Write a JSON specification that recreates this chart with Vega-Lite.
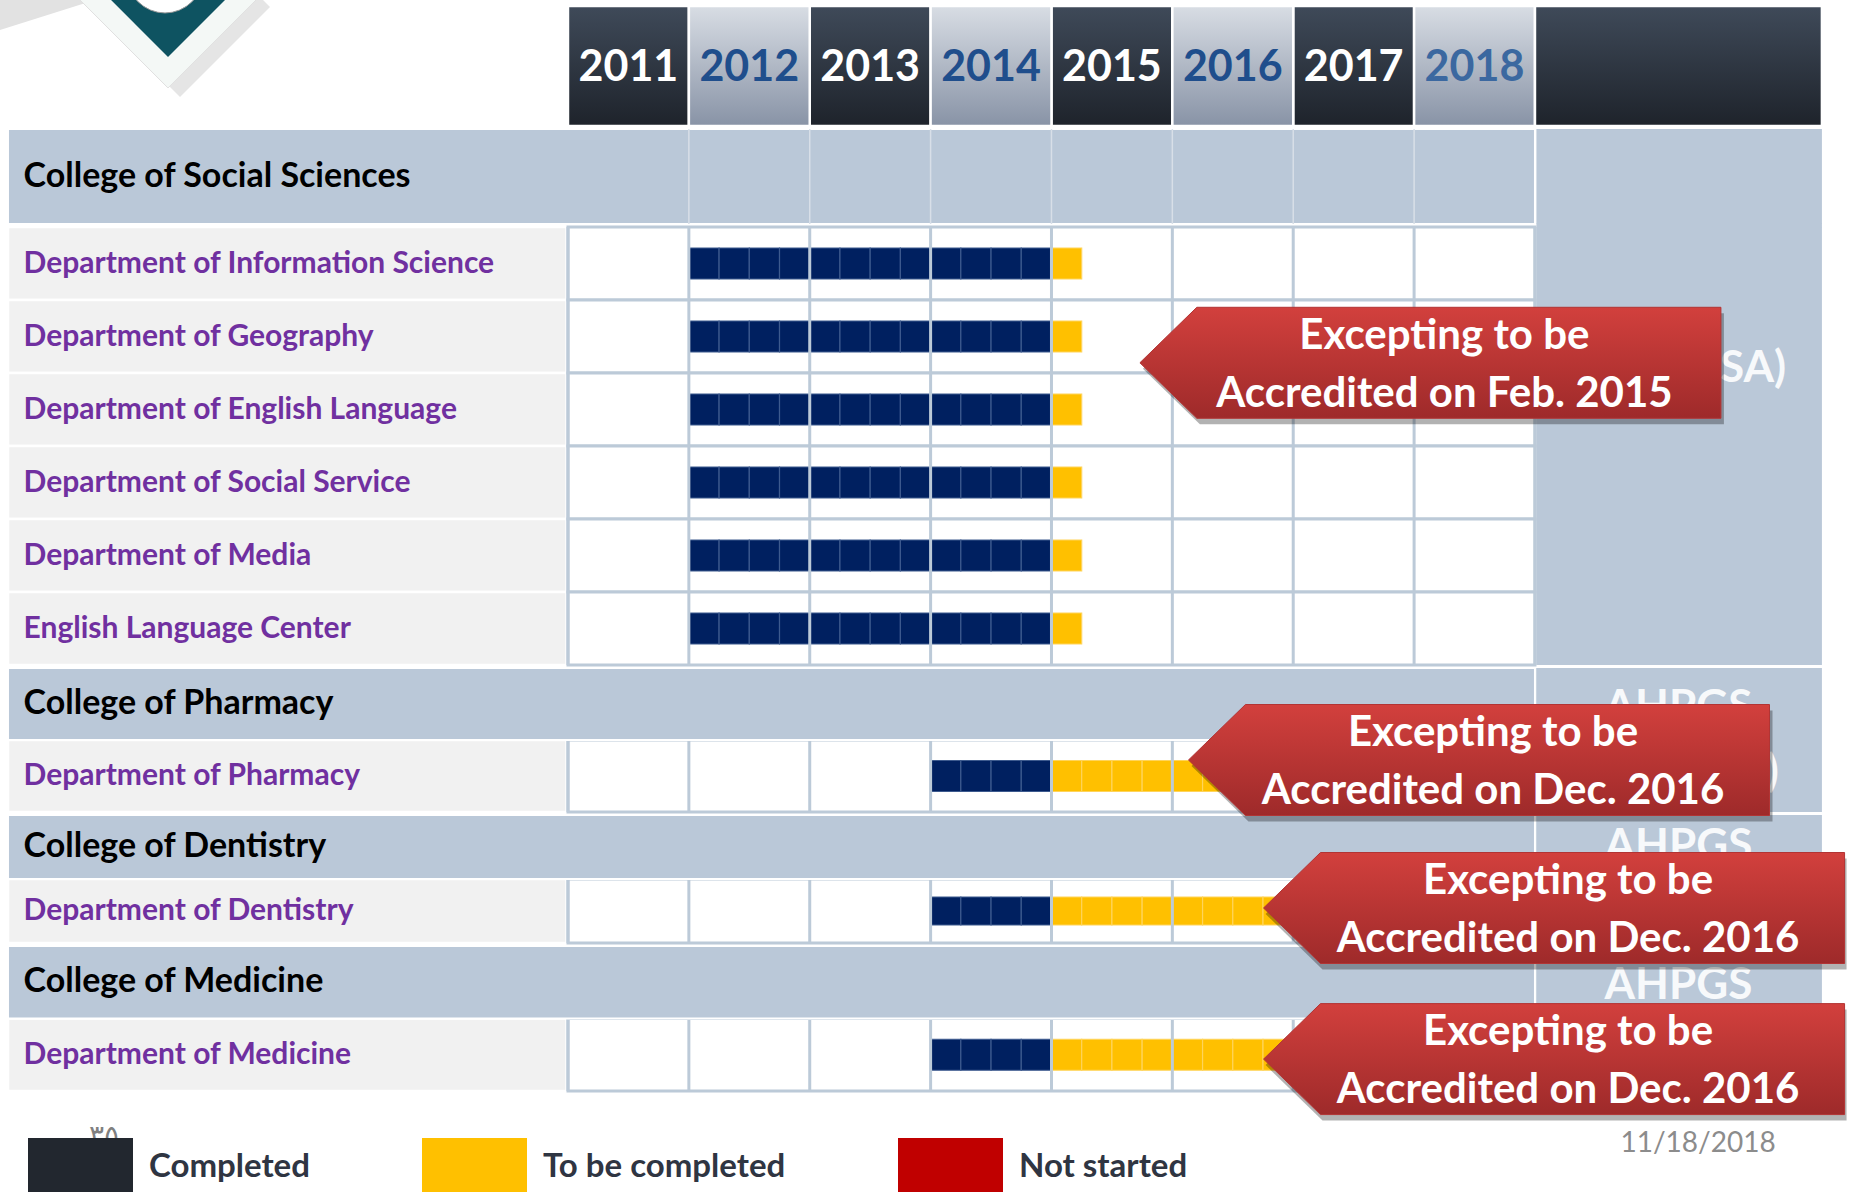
{
  "$schema": "https://vega.github.io/schema/vega-lite/v6.json",
  "autosize": {"type": "pad"},
  "padding": 0,
  "background": "#ffffff",
  "bounds": "flush",
  "spacing": 3,
  "config": {"view": {"stroke": null}, "axis": {"disable": true}, "scale": {"continuousPadding": 0}},
  "resolve": {"scale": {"x": "shared", "y": "independent", "color": "independent"}, "legend": {"color": "independent"}},
  "datasets": {
    "rows": [
      {"label": "College of Social Sciences", "kind": "college", "grp": "A0"},
      {"label": "Department of Information Science", "kind": "dept", "grp": "A1"},
      {"label": "Department of Geography", "kind": "dept", "grp": "A1"},
      {"label": "Department of English Language", "kind": "dept", "grp": "A1"},
      {"label": "Department of Social Service", "kind": "dept", "grp": "A1"},
      {"label": "Department of Media", "kind": "dept", "grp": "A1"},
      {"label": "English Language Center", "kind": "dept", "grp": "A1"},
      {"label": "College of Pharmacy", "kind": "college", "grp": "B"},
      {"label": "Department of Pharmacy", "kind": "dept", "grp": "B"},
      {"label": "College of Dentistry", "kind": "college", "grp": "C"},
      {"label": "Department of Dentistry", "kind": "dept", "grp": "C"},
      {"label": "College of Medicine", "kind": "college", "grp": "D"},
      {"label": "Department of Medicine", "kind": "dept", "grp": "D"}
    ],
    "bars": [
      {"grp": "A1", "label": "Department of Information Science", "k": "Completed", "s": [2012,2012.25,2012.5,2012.75,2013,2013.25,2013.5,2013.75,2014,2014.25,2014.5,2014.75], "e": [2012.25,2012.5,2012.75,2013,2013.25,2013.5,2013.75,2014,2014.25,2014.5,2014.75,2015]},
      {"grp": "A1", "label": "Department of Information Science", "k": "To be completed", "s": [2015], "e": [2015.25]},
      {"grp": "A1", "label": "Department of Geography", "k": "Completed", "s": [2012,2012.25,2012.5,2012.75,2013,2013.25,2013.5,2013.75,2014,2014.25,2014.5,2014.75], "e": [2012.25,2012.5,2012.75,2013,2013.25,2013.5,2013.75,2014,2014.25,2014.5,2014.75,2015]},
      {"grp": "A1", "label": "Department of Geography", "k": "To be completed", "s": [2015], "e": [2015.25]},
      {"grp": "A1", "label": "Department of English Language", "k": "Completed", "s": [2012,2012.25,2012.5,2012.75,2013,2013.25,2013.5,2013.75,2014,2014.25,2014.5,2014.75], "e": [2012.25,2012.5,2012.75,2013,2013.25,2013.5,2013.75,2014,2014.25,2014.5,2014.75,2015]},
      {"grp": "A1", "label": "Department of English Language", "k": "To be completed", "s": [2015], "e": [2015.25]},
      {"grp": "A1", "label": "Department of Social Service", "k": "Completed", "s": [2012,2012.25,2012.5,2012.75,2013,2013.25,2013.5,2013.75,2014,2014.25,2014.5,2014.75], "e": [2012.25,2012.5,2012.75,2013,2013.25,2013.5,2013.75,2014,2014.25,2014.5,2014.75,2015]},
      {"grp": "A1", "label": "Department of Social Service", "k": "To be completed", "s": [2015], "e": [2015.25]},
      {"grp": "A1", "label": "Department of Media", "k": "Completed", "s": [2012,2012.25,2012.5,2012.75,2013,2013.25,2013.5,2013.75,2014,2014.25,2014.5,2014.75], "e": [2012.25,2012.5,2012.75,2013,2013.25,2013.5,2013.75,2014,2014.25,2014.5,2014.75,2015]},
      {"grp": "A1", "label": "Department of Media", "k": "To be completed", "s": [2015], "e": [2015.25]},
      {"grp": "A1", "label": "English Language Center", "k": "Completed", "s": [2012,2012.25,2012.5,2012.75,2013,2013.25,2013.5,2013.75,2014,2014.25,2014.5,2014.75], "e": [2012.25,2012.5,2012.75,2013,2013.25,2013.5,2013.75,2014,2014.25,2014.5,2014.75,2015]},
      {"grp": "A1", "label": "English Language Center", "k": "To be completed", "s": [2015], "e": [2015.25]},
      {"grp": "B", "label": "Department of Pharmacy", "k": "Completed", "s": [2014,2014.25,2014.5,2014.75], "e": [2014.25,2014.5,2014.75,2015]},
      {"grp": "B", "label": "Department of Pharmacy", "k": "To be completed", "s": [2015,2015.25,2015.5,2015.75,2016,2016.25,2016.5,2016.75], "e": [2015.25,2015.5,2015.75,2016,2016.25,2016.5,2016.75,2017]},
      {"grp": "C", "label": "Department of Dentistry", "k": "Completed", "s": [2014,2014.25,2014.5,2014.75], "e": [2014.25,2014.5,2014.75,2015]},
      {"grp": "C", "label": "Department of Dentistry", "k": "To be completed", "s": [2015,2015.25,2015.5,2015.75,2016,2016.25,2016.5,2016.75], "e": [2015.25,2015.5,2015.75,2016,2016.25,2016.5,2016.75,2017]},
      {"grp": "D", "label": "Department of Medicine", "k": "Completed", "s": [2014,2014.25,2014.5,2014.75], "e": [2014.25,2014.5,2014.75,2015]},
      {"grp": "D", "label": "Department of Medicine", "k": "To be completed", "s": [2015,2015.25,2015.5,2015.75,2016,2016.25,2016.5,2016.75], "e": [2015.25,2015.5,2015.75,2016,2016.25,2016.5,2016.75,2017]}
    ],
    "header": [
      {"label": "2011", "s": 2011, "e": 2012, "tone": "dark"},
      {"label": "2012", "s": 2012, "e": 2013, "tone": "light"},
      {"label": "2013", "s": 2013, "e": 2014, "tone": "dark"},
      {"label": "2014", "s": 2014, "e": 2015, "tone": "light"},
      {"label": "2015", "s": 2015, "e": 2016, "tone": "dark"},
      {"label": "2016", "s": 2016, "e": 2017, "tone": "light"},
      {"label": "2017", "s": 2017, "e": 2018, "tone": "dark"},
      {"label": "2018", "s": 2018, "e": 2019, "tone": "light"}
    ],
    "grid": [{"yr": 2011}, {"yr": 2012}, {"yr": 2013}, {"yr": 2014}, {"yr": 2015}, {"yr": 2016}, {"yr": 2017}, {"yr": 2018}, {"yr": 2019}],
    "status": [{"status": "Completed"}, {"status": "To be completed"}, {"status": "Not started"}]
  },
  "vconcat": [
    {
      "width": 1849,
      "height": 126,
      "layer": [
        {
          "data": {"values": [{"part": "swoosh"}]},
          "mark": {"type": "point", "shape": "M-0.94,-0.3L0.96,-0.3L-0.94,0.3Z", "size": 10000, "filled": true, "fill": "#e2e2e2", "opacity": 1, "strokeWidth": 0, "clip": true},
          "encoding": {
            "x": {"datum": 2006.69, "type": "quantitative", "scale": {"domain": [2006.301, 2021.598], "padding": 0, "nice": false, "zero": false}},
            "y": {"datum": 0.075, "type": "quantitative", "scale": {"domain": [-0.05, 1], "reverse": true, "padding": 0, "nice": false, "zero": false}}
          }
        },
        {
          "data": {"values": [{"part": "logo"}]},
          "encoding": {
            "x": {"datum": 2007.691, "type": "quantitative"},
            "y": {"datum": -0.067, "type": "quantitative"}
          },
          "layer": [
            {"mark": {"type": "point", "shape": "M0,-1L1,0L0,1L-1,0Z", "size": 32400, "filled": true, "fill": "#000000", "opacity": 0.1, "strokeWidth": 0, "xOffset": 12, "yOffset": 9, "clip": true}},
            {"mark": {"type": "point", "shape": "M0,-1L1,0L0,1L-1,0Z", "size": 32400, "filled": true, "fill": "#f4f8f6", "opacity": 1, "stroke": "#e0e0e0", "strokeWidth": 1, "clip": true}},
            {"mark": {"type": "point", "shape": "M0,-1L1,0L0,1L-1,0Z", "size": 14400, "filled": true, "fill": "#0e5361", "opacity": 1, "strokeWidth": 0, "yOffset": -1, "clip": true}},
            {"mark": {"type": "point", "shape": "circle", "size": 5776, "filled": true, "fill": "#ffffff", "opacity": 1, "stroke": "#9a9a9a", "strokeWidth": 1, "xOffset": -3, "yOffset": -23, "clip": true}}
          ]
        },
        {
          "data": {"name": "header"},
          "transform": [{"filter": "datum.tone === 'dark'"}],
          "mark": {"type": "rect", "stroke": "#ffffff", "strokeWidth": 2.5, "fill": {"gradient": "linear", "x1": 0, "y1": 0, "x2": 0, "y2": 1, "stops": [{"offset": 0, "color": "#3f4a59"}, {"offset": 1, "color": "#1e232b"}]}},
          "encoding": {"x": {"field": "s", "type": "quantitative"}, "x2": {"field": "e"}, "y": {"datum": 0, "type": "quantitative"}, "y2": {"datum": 1}}
        },
        {
          "data": {"name": "header"},
          "transform": [{"filter": "datum.tone === 'light'"}],
          "mark": {"type": "rect", "stroke": "#ffffff", "strokeWidth": 2.5, "fill": {"gradient": "linear", "x1": 0, "y1": 0, "x2": 0, "y2": 1, "stops": [{"offset": 0, "color": "#d8dde4"}, {"offset": 1, "color": "#8893a6"}]}},
          "encoding": {"x": {"field": "s", "type": "quantitative"}, "x2": {"field": "e"}, "y": {"datum": 0, "type": "quantitative"}, "y2": {"datum": 1}}
        },
        {
          "data": {"values": [{"part": "accreditation column"}]},
          "mark": {"type": "rect", "stroke": "#ffffff", "strokeWidth": 2.5, "fill": {"gradient": "linear", "x1": 0, "y1": 0, "x2": 0, "y2": 1, "stops": [{"offset": 0, "color": "#3f4a59"}, {"offset": 1, "color": "#1e232b"}]}},
          "encoding": {"x": {"datum": 2019, "type": "quantitative"}, "x2": {"datum": 2021.374}, "y": {"datum": 0, "type": "quantitative"}, "y2": {"datum": 1}}
        },
        {
          "data": {"name": "header"},
          "mark": {"type": "text", "font": "Lato", "fontSize": 43, "fontWeight": "bold", "align": "center", "baseline": "middle", "dx": 60.4, "dy": 2},
          "encoding": {
            "x": {"field": "s", "type": "quantitative"},
            "y": {"datum": 0.5, "type": "quantitative"},
            "text": {"field": "label", "type": "nominal"},
            "fill": {"condition": [{"test": "datum.tone === 'dark'", "value": "#ffffff"}, {"test": "datum.label === '2018'", "value": "#3b68a0"}], "value": "#1f4e8c"}
          }
        }
      ]
    },
    {
      "width": 1849,
      "height": 95,
      "layer": [
        {
          "data": {"name": "rows"},
          "transform": [{"filter": "datum.grp === 'A0'"}],
          "mark": {"type": "rect", "fill": "#bac8d8", "stroke": "#ffffff", "strokeWidth": 2},
          "encoding": {
            "x": {"datum": 2006.367, "type": "quantitative", "scale": {"domain": [2006.301, 2021.598], "padding": 0, "nice": false, "zero": false}},
            "x2": {"datum": 2019},
            "y": {"field": "label", "type": "nominal", "scale": {"domain": ["College of Social Sciences"], "paddingInner": 0, "paddingOuter": 0}}
          }
        },
        {
          "data": {"name": "grid"},
          "transform": [{"filter": "datum.yr > 2011 && datum.yr < 2019"}],
          "mark": {"type": "rule", "color": "#d8dfe8", "strokeWidth": 1.5},
          "encoding": {"x": {"field": "yr", "type": "quantitative"}}
        },
        {
          "data": {"name": "rows"},
          "transform": [{"filter": "datum.grp === 'A0'"}],
          "mark": {"type": "rect", "fill": "#bac8d8"},
          "encoding": {"x": {"datum": 2019.012, "type": "quantitative"}, "x2": {"datum": 2021.374}, "y": {"field": "label", "type": "nominal"}}
        },
        {
          "data": {"name": "rows"},
          "transform": [{"filter": "datum.grp === 'A0'"}],
          "mark": {"type": "rule", "color": "#bac8d8", "strokeWidth": 4, "yOffset": 1.5},
          "encoding": {"x": {"datum": 2019.012, "type": "quantitative"}, "x2": {"datum": 2021.374}, "y": {"field": "label", "type": "nominal", "bandPosition": 1}}
        },
        {
          "data": {"name": "rows"},
          "transform": [{"filter": "datum.grp === 'A0'"}],
          "mark": {"type": "text", "font": "Lato", "fontWeight": "bold", "fontSize": 34, "fill": "#000000", "align": "left", "baseline": "middle"},
          "encoding": {"x": {"datum": 2006.496, "type": "quantitative"}, "y": {"field": "label", "type": "nominal"}, "text": {"field": "label", "type": "nominal"}}
        }
      ]
    },
    {
      "width": 1849,
      "height": 438,
      "layer": [
        {
          "data": {"name": "rows"},
          "transform": [{"filter": "datum.grp === 'A1'"}],
          "mark": {"type": "rect", "fill": "#f1f1f1", "stroke": "#ffffff", "strokeWidth": 2.5},
          "encoding": {
            "x": {"datum": 2006.367, "type": "quantitative", "scale": {"domain": [2006.301, 2021.598], "padding": 0, "nice": false, "zero": false}},
            "x2": {"datum": 2010.988},
            "y": {"field": "label", "type": "nominal", "scale": {"domain": ["Department of Information Science", "Department of Geography", "Department of English Language", "Department of Social Service", "Department of Media", "English Language Center"], "paddingInner": 0, "paddingOuter": 0}}
          }
        },
        {
          "data": {"name": "rows"},
          "transform": [{"filter": "datum.grp === 'A1'"}],
          "mark": {"type": "rect", "fill": "#ffffff", "stroke": "#bccad8", "strokeWidth": 3},
          "encoding": {"x": {"datum": 2011, "type": "quantitative"}, "x2": {"datum": 2019}, "y": {"field": "label", "type": "nominal"}}
        },
        {
          "data": {"name": "bars"},
          "transform": [{"filter": "datum.grp === 'A1'"}, {"flatten": ["s", "e"]}],
          "mark": {"type": "bar", "size": 31, "strokeWidth": 1.2},
          "encoding": {
            "x": {"field": "s", "type": "quantitative"}, "x2": {"field": "e"},
            "y": {"field": "label", "type": "nominal"},
            "fill": {"condition": {"test": "datum.k === 'Completed'", "value": "#002060"}, "value": "#ffc000"},
            "stroke": {"condition": {"test": "datum.k === 'Completed'", "value": "#3d5a8e"}, "value": "#ffd45a"}
          }
        },
        {
          "data": {"name": "grid"},
          "mark": {"type": "rule", "color": "#bccad8", "strokeWidth": 3},
          "encoding": {"x": {"field": "yr", "type": "quantitative"}}
        },
        {
          "data": {"name": "rows"},
          "transform": [{"filter": "datum.grp === 'A1'"}],
          "mark": {"type": "rect", "fill": "#bac8d8"},
          "encoding": {"x": {"datum": 2019.012, "type": "quantitative"}, "x2": {"datum": 2021.374}, "y": {"field": "label", "type": "nominal"}}
        },
        {
          "data": {"name": "rows"},
          "transform": [{"filter": "datum.grp === 'A1'"}],
          "mark": {"type": "text", "font": "Lato", "fontWeight": "bold", "fontSize": 30, "fill": "#7030a0", "align": "left", "baseline": "middle"},
          "encoding": {"x": {"datum": 2006.496, "type": "quantitative"}, "y": {"field": "label", "type": "nominal"}, "text": {"field": "label", "type": "nominal"}}
        },
        {
          "data": {"values": [{"label": "Department of Geography", "text": "NCAAA (KSA)"}]},
          "mark": {"type": "text", "font": "Lato", "fontWeight": "bold", "fontSize": 44, "fill": "#f7f9fb", "align": "right", "baseline": "middle"},
          "encoding": {"x": {"datum": 2021.077, "type": "quantitative"}, "y": {"field": "label", "type": "nominal", "bandPosition": 0.95}, "text": {"field": "text", "type": "nominal"}}
        },
        {
          "data": {"values": [{"label": "Department of Geography", "lines": ["Excepting to be", "Accredited on Feb. 2015"]}]},
          "encoding": {"x": {"datum": 2018.135, "type": "quantitative"}, "y": {"field": "label", "type": "nominal", "bandPosition": 0.86}},
          "layer": [
            {"mark": {"type": "point", "shape": "M-1,0L-0.804,-0.191L1,-0.191L1,0.191L-0.804,0.191Z", "size": 337561, "filled": true, "fill": "#000000", "opacity": 0.3, "strokeWidth": 0, "xOffset": 3, "yOffset": 6}},
            {"mark": {"type": "point", "shape": "M-1,0L-0.804,-0.191L1,-0.191L1,0.191L-0.804,0.191Z", "size": 337561, "filled": true, "opacity": 1, "stroke": "#b23434", "strokeWidth": 1, "fill": {"gradient": "linear", "x1": 0, "y1": 0, "x2": 0, "y2": 1, "stops": [{"offset": 0, "color": "#d2403d"}, {"offset": 1, "color": "#9e2a2a"}]}}},
            {"mark": {"type": "text", "font": "Lato", "fontSize": 42, "fontWeight": "bold", "fill": "#ffffff", "align": "center", "baseline": "middle", "lineHeight": 58, "dx": 14, "dy": -27}, "encoding": {"text": {"field": "lines", "type": "nominal"}}}
          ]
        }
      ]
    },
    {
      "width": 1849,
      "height": 144,
      "layer": [
        {
          "data": {"name": "rows"},
          "transform": [{"filter": "datum.grp === 'B' && datum.kind === 'dept'"}],
          "mark": {"type": "rect", "fill": "#f1f1f1", "stroke": "#ffffff", "strokeWidth": 2.5},
          "encoding": {
            "x": {"datum": 2006.367, "type": "quantitative", "scale": {"domain": [2006.301, 2021.598], "padding": 0, "nice": false, "zero": false}},
            "x2": {"datum": 2010.988},
            "y": {"field": "label", "type": "nominal", "scale": {"domain": ["College of Pharmacy", "Department of Pharmacy"], "paddingInner": 0, "paddingOuter": 0}}
          }
        },
        {
          "data": {"name": "rows"},
          "transform": [{"filter": "datum.grp === 'B' && datum.kind === 'dept'"}],
          "mark": {"type": "rect", "fill": "#ffffff", "stroke": "#bccad8", "strokeWidth": 3},
          "encoding": {"x": {"datum": 2011, "type": "quantitative"}, "x2": {"datum": 2019}, "y": {"field": "label", "type": "nominal"}}
        },
        {
          "data": {"name": "bars"},
          "transform": [{"filter": "datum.grp === 'B'"}, {"flatten": ["s", "e"]}],
          "mark": {"type": "bar", "size": 31, "strokeWidth": 1.2},
          "encoding": {
            "x": {"field": "s", "type": "quantitative"}, "x2": {"field": "e"},
            "y": {"field": "label", "type": "nominal"},
            "fill": {"condition": {"test": "datum.k === 'Completed'", "value": "#002060"}, "value": "#ffc000"},
            "stroke": {"condition": {"test": "datum.k === 'Completed'", "value": "#3d5a8e"}, "value": "#ffd45a"}
          }
        },
        {
          "data": {"name": "grid"},
          "mark": {"type": "rule", "color": "#bccad8", "strokeWidth": 3},
          "encoding": {"x": {"field": "yr", "type": "quantitative"}}
        },
        {
          "data": {"name": "rows"},
          "transform": [{"filter": "datum.grp === 'B' && datum.kind === 'college'"}],
          "mark": {"type": "rect", "fill": "#bac8d8", "stroke": "#ffffff", "strokeWidth": 2},
          "encoding": {"x": {"datum": 2006.367, "type": "quantitative"}, "x2": {"datum": 2019}, "y": {"field": "label", "type": "nominal"}}
        },
        {
          "data": {"name": "rows"},
          "transform": [{"filter": "datum.grp === 'B'"}],
          "mark": {"type": "rect", "fill": "#bac8d8"},
          "encoding": {"x": {"datum": 2019.012, "type": "quantitative"}, "x2": {"datum": 2021.374}, "y": {"field": "label", "type": "nominal"}}
        },
        {
          "data": {"name": "rows"},
          "transform": [{"filter": "datum.grp === 'B'"}],
          "mark": {"type": "text", "font": "Lato", "fontWeight": "bold", "align": "left", "baseline": "middle"},
          "encoding": {
            "x": {"datum": 2006.496, "type": "quantitative"}, "y": {"field": "label", "type": "nominal"}, "text": {"field": "label", "type": "nominal"},
            "size": {"condition": {"test": "datum.kind === 'college'", "value": 34}, "value": 30},
            "fill": {"condition": {"test": "datum.kind === 'college'", "value": "#000000"}, "value": "#7030a0"}
          }
        },
        {
          "data": {"values": [{"label": "Department of Pharmacy", "lines": ["AHPGS", "(Germany)"]}]},
          "mark": {"type": "text", "font": "Lato", "fontWeight": "bold", "fontSize": 44, "fill": "#f7f9fb", "align": "center", "baseline": "middle", "lineHeight": 65, "dy": -32.5},
          "encoding": {"x": {"datum": 2020.187, "type": "quantitative"}, "y": {"field": "label", "type": "nominal", "bandPosition": 0}, "text": {"field": "lines", "type": "nominal"}}
        }
      ]
    },
    {
      "width": 1849,
      "height": 128,
      "layer": [
        {
          "data": {"name": "rows"},
          "transform": [{"filter": "datum.grp === 'C' && datum.kind === 'dept'"}],
          "mark": {"type": "rect", "fill": "#f1f1f1", "stroke": "#ffffff", "strokeWidth": 2.5},
          "encoding": {
            "x": {"datum": 2006.367, "type": "quantitative", "scale": {"domain": [2006.301, 2021.598], "padding": 0, "nice": false, "zero": false}},
            "x2": {"datum": 2010.988},
            "y": {"field": "label", "type": "nominal", "scale": {"domain": ["College of Dentistry", "Department of Dentistry"], "paddingInner": 0, "paddingOuter": 0}}
          }
        },
        {
          "data": {"name": "rows"},
          "transform": [{"filter": "datum.grp === 'C' && datum.kind === 'dept'"}],
          "mark": {"type": "rect", "fill": "#ffffff", "stroke": "#bccad8", "strokeWidth": 3},
          "encoding": {"x": {"datum": 2011, "type": "quantitative"}, "x2": {"datum": 2019}, "y": {"field": "label", "type": "nominal"}}
        },
        {
          "data": {"name": "bars"},
          "transform": [{"filter": "datum.grp === 'C'"}, {"flatten": ["s", "e"]}],
          "mark": {"type": "bar", "size": 28, "strokeWidth": 1.2},
          "encoding": {
            "x": {"field": "s", "type": "quantitative"}, "x2": {"field": "e"},
            "y": {"field": "label", "type": "nominal"},
            "fill": {"condition": {"test": "datum.k === 'Completed'", "value": "#002060"}, "value": "#ffc000"},
            "stroke": {"condition": {"test": "datum.k === 'Completed'", "value": "#3d5a8e"}, "value": "#ffd45a"}
          }
        },
        {
          "data": {"name": "grid"},
          "mark": {"type": "rule", "color": "#bccad8", "strokeWidth": 3},
          "encoding": {"x": {"field": "yr", "type": "quantitative"}}
        },
        {
          "data": {"name": "rows"},
          "transform": [{"filter": "datum.grp === 'C' && datum.kind === 'college'"}],
          "mark": {"type": "rect", "fill": "#bac8d8", "stroke": "#ffffff", "strokeWidth": 2},
          "encoding": {"x": {"datum": 2006.367, "type": "quantitative"}, "x2": {"datum": 2019}, "y": {"field": "label", "type": "nominal"}}
        },
        {
          "data": {"name": "rows"},
          "transform": [{"filter": "datum.grp === 'C'"}],
          "mark": {"type": "rect", "fill": "#bac8d8"},
          "encoding": {"x": {"datum": 2019.012, "type": "quantitative"}, "x2": {"datum": 2021.374}, "y": {"field": "label", "type": "nominal"}}
        },
        {
          "data": {"name": "rows"},
          "transform": [{"filter": "datum.grp === 'C'"}],
          "mark": {"type": "text", "font": "Lato", "fontWeight": "bold", "align": "left", "baseline": "middle"},
          "encoding": {
            "x": {"datum": 2006.496, "type": "quantitative"}, "y": {"field": "label", "type": "nominal"}, "text": {"field": "label", "type": "nominal"},
            "size": {"condition": {"test": "datum.kind === 'college'", "value": 34}, "value": 30},
            "fill": {"condition": {"test": "datum.kind === 'college'", "value": "#000000"}, "value": "#7030a0"}
          }
        },
        {
          "data": {"values": [{"label": "Department of Dentistry", "lines": ["AHPGS", "(Germany)"]}]},
          "mark": {"type": "text", "font": "Lato", "fontWeight": "bold", "fontSize": 44, "fill": "#f7f9fb", "align": "center", "baseline": "middle", "lineHeight": 65, "dy": -32.5},
          "encoding": {"x": {"datum": 2020.187, "type": "quantitative"}, "y": {"field": "label", "type": "nominal", "bandPosition": 0}, "text": {"field": "lines", "type": "nominal"}}
        },
        {
          "data": {"values": [{"label": "College of Dentistry", "lines": ["Excepting to be", "Accredited on Dec. 2016"]}]},
          "encoding": {"x": {"datum": 2018.537, "type": "quantitative"}, "y": {"field": "label", "type": "nominal", "bandPosition": 0}},
          "layer": [
            {"mark": {"type": "point", "shape": "M-1,0L-0.804,-0.191L1,-0.191L1,0.191L-0.804,0.191Z", "size": 337561, "filled": true, "fill": "#000000", "opacity": 0.3, "strokeWidth": 0, "xOffset": 3, "yOffset": -49}},
            {"mark": {"type": "point", "shape": "M-1,0L-0.804,-0.191L1,-0.191L1,0.191L-0.804,0.191Z", "size": 337561, "filled": true, "opacity": 1, "stroke": "#b23434", "strokeWidth": 1, "yOffset": -55, "fill": {"gradient": "linear", "x1": 0, "y1": 0, "x2": 0, "y2": 1, "stops": [{"offset": 0, "color": "#d2403d"}, {"offset": 1, "color": "#9e2a2a"}]}}},
            {"mark": {"type": "text", "font": "Lato", "fontSize": 42, "fontWeight": "bold", "fill": "#ffffff", "align": "center", "baseline": "middle", "lineHeight": 58, "dx": 14, "dy": -82}, "encoding": {"text": {"field": "lines", "type": "nominal"}}}
          ]
        }
      ]
    },
    {
      "width": 1849,
      "height": 145,
      "layer": [
        {
          "data": {"name": "rows"},
          "transform": [{"filter": "datum.grp === 'D' && datum.kind === 'dept'"}],
          "mark": {"type": "rect", "fill": "#f1f1f1", "stroke": "#ffffff", "strokeWidth": 2.5},
          "encoding": {
            "x": {"datum": 2006.367, "type": "quantitative", "scale": {"domain": [2006.301, 2021.598], "padding": 0, "nice": false, "zero": false}},
            "x2": {"datum": 2010.988},
            "y": {"field": "label", "type": "nominal", "scale": {"domain": ["College of Medicine", "Department of Medicine"], "paddingInner": 0, "paddingOuter": 0}}
          }
        },
        {
          "data": {"name": "rows"},
          "transform": [{"filter": "datum.grp === 'D' && datum.kind === 'dept'"}],
          "mark": {"type": "rect", "fill": "#ffffff", "stroke": "#bccad8", "strokeWidth": 3},
          "encoding": {"x": {"datum": 2011, "type": "quantitative"}, "x2": {"datum": 2019}, "y": {"field": "label", "type": "nominal"}}
        },
        {
          "data": {"name": "bars"},
          "transform": [{"filter": "datum.grp === 'D'"}, {"flatten": ["s", "e"]}],
          "mark": {"type": "bar", "size": 31, "strokeWidth": 1.2},
          "encoding": {
            "x": {"field": "s", "type": "quantitative"}, "x2": {"field": "e"},
            "y": {"field": "label", "type": "nominal"},
            "fill": {"condition": {"test": "datum.k === 'Completed'", "value": "#002060"}, "value": "#ffc000"},
            "stroke": {"condition": {"test": "datum.k === 'Completed'", "value": "#3d5a8e"}, "value": "#ffd45a"}
          }
        },
        {
          "data": {"name": "grid"},
          "mark": {"type": "rule", "color": "#bccad8", "strokeWidth": 3},
          "encoding": {"x": {"field": "yr", "type": "quantitative"}}
        },
        {
          "data": {"name": "rows"},
          "transform": [{"filter": "datum.grp === 'D' && datum.kind === 'college'"}],
          "mark": {"type": "rect", "fill": "#bac8d8", "stroke": "#ffffff", "strokeWidth": 2},
          "encoding": {"x": {"datum": 2006.367, "type": "quantitative"}, "x2": {"datum": 2019}, "y": {"field": "label", "type": "nominal"}}
        },
        {
          "data": {"name": "rows"},
          "transform": [{"filter": "datum.grp === 'D'"}],
          "mark": {"type": "rect", "fill": "#bac8d8"},
          "encoding": {"x": {"datum": 2019.012, "type": "quantitative"}, "x2": {"datum": 2021.374}, "y": {"field": "label", "type": "nominal"}}
        },
        {
          "data": {"name": "rows"},
          "transform": [{"filter": "datum.grp === 'D'"}],
          "mark": {"type": "text", "font": "Lato", "fontWeight": "bold", "align": "left", "baseline": "middle"},
          "encoding": {
            "x": {"datum": 2006.496, "type": "quantitative"}, "y": {"field": "label", "type": "nominal"}, "text": {"field": "label", "type": "nominal"},
            "size": {"condition": {"test": "datum.kind === 'college'", "value": 34}, "value": 30},
            "fill": {"condition": {"test": "datum.kind === 'college'", "value": "#000000"}, "value": "#7030a0"}
          }
        },
        {
          "data": {"values": [{"label": "Department of Medicine", "lines": ["AHPGS", "(Germany)"]}]},
          "mark": {"type": "text", "font": "Lato", "fontWeight": "bold", "fontSize": 44, "fill": "#f7f9fb", "align": "center", "baseline": "middle", "lineHeight": 65, "dy": -32.5},
          "encoding": {"x": {"datum": 2020.187, "type": "quantitative"}, "y": {"field": "label", "type": "nominal", "bandPosition": 0}, "text": {"field": "lines", "type": "nominal"}}
        },
        {
          "data": {"values": [{"label": "College of Medicine", "lines": ["Excepting to be", "Accredited on Dec. 2016"]}]},
          "encoding": {"x": {"datum": 2019.158, "type": "quantitative"}, "y": {"field": "label", "type": "nominal", "bandPosition": 0}},
          "layer": [
            {"mark": {"type": "point", "shape": "M-1,0L-0.804,-0.191L1,-0.191L1,0.191L-0.804,0.191Z", "size": 337561, "filled": true, "fill": "#000000", "opacity": 0.3, "strokeWidth": 0, "xOffset": 2, "yOffset": -32}},
            {"mark": {"type": "point", "shape": "M-1,0L-0.804,-0.191L1,-0.191L1,0.191L-0.804,0.191Z", "size": 337561, "filled": true, "opacity": 1, "stroke": "#b23434", "strokeWidth": 1, "yOffset": -38, "fill": {"gradient": "linear", "x1": 0, "y1": 0, "x2": 0, "y2": 1, "stops": [{"offset": 0, "color": "#d2403d"}, {"offset": 1, "color": "#9e2a2a"}]}}},
            {"mark": {"type": "text", "font": "Lato", "fontSize": 42, "fontWeight": "bold", "fill": "#ffffff", "align": "center", "baseline": "middle", "lineHeight": 58, "dx": 14, "dy": -65}, "encoding": {"text": {"field": "lines", "type": "nominal"}}}
          ]
        },
        {
          "data": {"values": [{"label": "Department of Medicine", "lines": ["Excepting to be", "Accredited on Dec. 2016"]}]},
          "encoding": {"x": {"datum": 2019.158, "type": "quantitative"}, "y": {"field": "label", "type": "nominal", "bandPosition": 0.56}},
          "layer": [
            {"mark": {"type": "point", "shape": "M-1,0L-0.804,-0.191L1,-0.191L1,0.191L-0.804,0.191Z", "size": 337561, "filled": true, "fill": "#000000", "opacity": 0.3, "strokeWidth": 0, "xOffset": 2, "yOffset": 6}},
            {"mark": {"type": "point", "shape": "M-1,0L-0.804,-0.191L1,-0.191L1,0.191L-0.804,0.191Z", "size": 337561, "filled": true, "opacity": 1, "stroke": "#b23434", "strokeWidth": 1, "fill": {"gradient": "linear", "x1": 0, "y1": 0, "x2": 0, "y2": 1, "stops": [{"offset": 0, "color": "#d2403d"}, {"offset": 1, "color": "#9e2a2a"}]}}},
            {"mark": {"type": "text", "font": "Lato", "fontSize": 42, "fontWeight": "bold", "fill": "#ffffff", "align": "center", "baseline": "middle", "lineHeight": 58, "dx": 14, "dy": -27}, "encoding": {"text": {"field": "lines", "type": "nominal"}}}
          ]
        }
      ]
    },
    {
      "width": 1849,
      "height": 98,
      "layer": [
        {
          "data": {"name": "status"},
          "mark": {"type": "point", "filled": true, "clip": true, "opacity": 1},
          "encoding": {
            "x": {"datum": 2000, "type": "quantitative", "scale": {"domain": [2006.301, 2021.598], "padding": 0, "nice": false, "zero": false}},
            "y": {"datum": 0.5, "type": "quantitative", "scale": {"domain": [0, 1], "reverse": true, "padding": 0, "nice": false, "zero": false}},
            "color": {
              "field": "status", "type": "nominal",
              "scale": {"domain": ["Completed", "To be completed", "Not started"], "range": ["#22272f", "#ffc000", "#c00000"]},
              "legend": {
                "orient": "none", "legendX": 28, "legendY": 20, "direction": "horizontal", "title": null, "padding": 0,
                "symbolType": "M-1,-0.55H1V0.55H-1Z", "symbolSize": 11025, "symbolStrokeWidth": 0, "symbolOpacity": 1,
                "labelFont": "Lato", "labelFontSize": 33, "labelFontWeight": "bold", "labelColor": "#2f3542",
                "labelOffset": 16, "columnPadding": 112, "labelLimit": 400
              }
            }
          }
        },
        {
          "data": {"values": [{"t": "11/18/2018"}]},
          "mark": {"type": "text", "font": "Lato", "fontSize": 28, "fill": "#8c8c8c", "align": "center", "baseline": "middle"},
          "encoding": {"x": {"datum": 2020.349, "type": "quantitative"}, "y": {"datum": 0.51, "type": "quantitative"}, "text": {"field": "t", "type": "nominal"}}
        },
        {
          "data": {"values": [{"t": "٣٥"}]},
          "mark": {"type": "text", "font": "DejaVu Sans", "fontSize": 28, "fill": "#808080", "align": "center", "baseline": "middle"},
          "encoding": {"x": {"datum": 2007.161, "type": "quantitative"}, "y": {"datum": 0.44, "type": "quantitative"}, "text": {"field": "t", "type": "nominal"}}
        }
      ]
    }
  ]
}
